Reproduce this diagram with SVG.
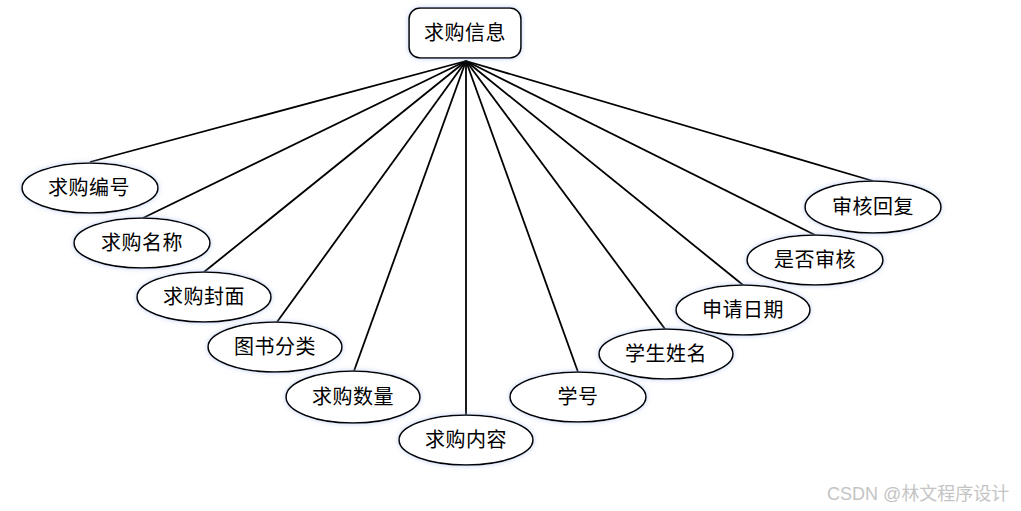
<svg xmlns="http://www.w3.org/2000/svg" width="1021" height="511" viewBox="0 0 1021 511">
<defs>
<filter id="glow" x="-20%" y="-30%" width="140%" height="160%">
<feDropShadow dx="0" dy="0" stdDeviation="2.5" flood-color="#9fb8e8" flood-opacity="0.6"/>
</filter>
<style>
.shape{fill:#fff;stroke:#000;stroke-width:1.6;filter:url(#glow)}
.lbl{font-family:"Liberation Serif","Noto Sans CJK SC",serif;font-size:20px;fill:#000;text-anchor:middle;dominant-baseline:central;letter-spacing:0.5px}
.conn line{stroke:#000;stroke-width:1.8}
.wm{font-family:"Liberation Sans","Noto Sans CJK SC",sans-serif;font-size:18px;fill:#c4c4c4}
</style>
</defs>
<rect width="1021" height="511" fill="#fff"/>
<g id="connectors" class="conn">
<line x1="466" y1="61" x2="90" y2="162"/>
<line x1="466" y1="61" x2="143" y2="218"/>
<line x1="466" y1="61" x2="204" y2="272"/>
<line x1="466" y1="61" x2="277" y2="322"/>
<line x1="466" y1="61" x2="354" y2="371"/>
<line x1="466" y1="61" x2="466" y2="415"/>
<line x1="466" y1="61" x2="578" y2="372"/>
<line x1="466" y1="61" x2="665" y2="329"/>
<line x1="466" y1="61" x2="743" y2="285"/>
<line x1="466" y1="61" x2="815" y2="235"/>
<line x1="466" y1="61" x2="873" y2="181"/>
</g>
<g id="n-root"><rect class="shape" x="409" y="8" width="112" height="50" rx="11"/><text class="lbl" x="465" y="33">求购信息</text></g>
<g id="n1"><ellipse class="shape" cx="90" cy="188" rx="68" ry="25"/><text class="lbl" x="89" y="188">求购编号</text></g>
<g id="n2"><ellipse class="shape" cx="142" cy="243" rx="68" ry="25"/><text class="lbl" x="142" y="243">求购名称</text></g>
<g id="n3"><ellipse class="shape" cx="204" cy="297" rx="67" ry="25"/><text class="lbl" x="204" y="297">求购封面</text></g>
<g id="n4"><ellipse class="shape" cx="275" cy="347" rx="67" ry="25"/><text class="lbl" x="275" y="347">图书分类</text></g>
<g id="n5"><ellipse class="shape" cx="353" cy="397" rx="67" ry="26"/><text class="lbl" x="353" y="397">求购数量</text></g>
<g id="n6"><ellipse class="shape" cx="466" cy="440" rx="67" ry="25"/><text class="lbl" x="466" y="440">求购内容</text></g>
<g id="n7"><ellipse class="shape" cx="578" cy="397" rx="68" ry="25"/><text class="lbl" x="578" y="397">学号</text></g>
<g id="n8"><ellipse class="shape" cx="666" cy="354" rx="67" ry="25"/><text class="lbl" x="666" y="354">学生姓名</text></g>
<g id="n9"><ellipse class="shape" cx="743" cy="310" rx="67" ry="25"/><text class="lbl" x="743" y="310">申请日期</text></g>
<g id="n10"><ellipse class="shape" cx="815" cy="260" rx="68" ry="25"/><text class="lbl" x="815" y="260">是否审核</text></g>
<g id="n11"><ellipse class="shape" cx="873" cy="207" rx="68" ry="26"/><text class="lbl" x="873" y="207">审核回复</text></g>
<text class="wm" x="827" y="500">CSDN @林文程序设计</text>
</svg>
